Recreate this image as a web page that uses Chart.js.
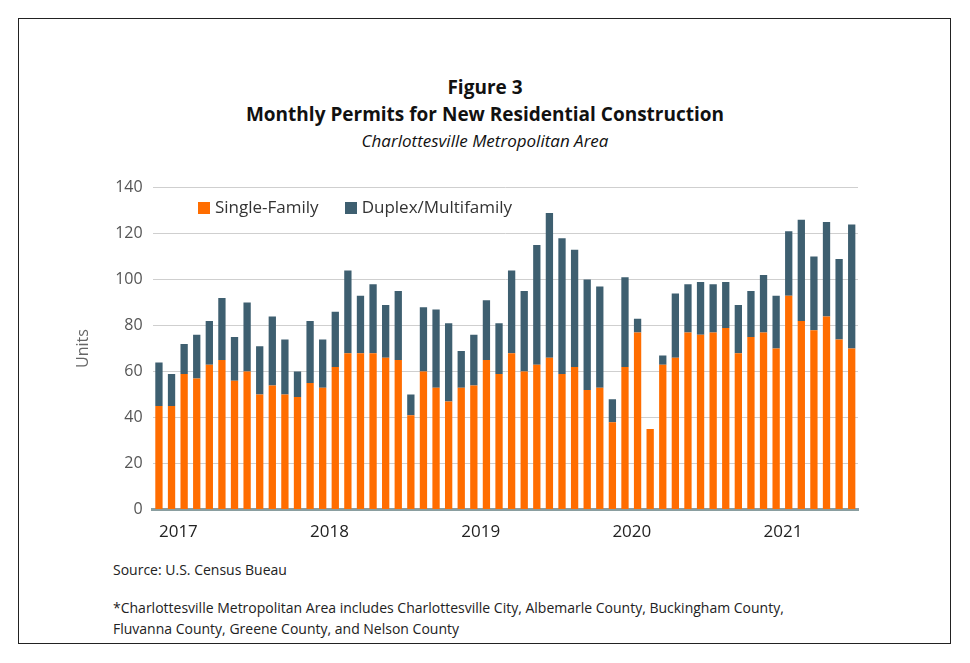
<!DOCTYPE html>
<html><head><meta charset="utf-8">
<script src="https://cdn.jsdelivr.net/npm/chart.js@4"></script>
<style>
body{margin:0;background:#fff;font-family:"Open Sans",sans-serif;}
#frame{position:absolute;left:18px;top:18px;width:933px;height:626px;border:1px solid #222;box-sizing:border-box;}
.t{position:absolute;left:0;width:970px;text-align:center;color:#111;}
#wrap{position:absolute;left:70px;top:168px;width:800px;height:378px;}
#legend{position:absolute;left:198px;top:195px;font-size:17px;color:#333;}
#legend span.b{display:inline-block;width:12px;height:12px;margin-right:5px;vertical-align:-1px;}
.n{position:absolute;left:113px;font-size:14px;color:#222;}
</style></head><body>
<div id="frame"></div>
<div class="t" style="top:74px;font-size:19px;font-weight:bold;">Figure 3</div>
<div class="t" style="top:101px;font-size:19px;font-weight:bold;">Monthly Permits for New Residential Construction</div>
<div class="t" style="top:129px;font-size:17px;font-style:italic;">Charlottesville Metropolitan Area</div>
<div id="wrap"><canvas id="c"></canvas></div>
<div id="legend"></div>
<div class="n" style="top:560px;">Source: U.S. Census Bueau</div>
<div class="n" style="top:598px;">*Charlottesville Metropolitan Area includes Charlottesville City, Albemarle County, Buckingham County,</div>
<div class="n" style="top:619px;">Fluvanna County, Greene County, and Nelson County</div>
<script>
const years=["2017","2018","2019","2020","2021"];
const singleFamily=[45,45,59,57,63,65,56,60,50,54,50,49,
55,53,62,68,68,68,66,65,41,60,53,47,
53,54,65,59,68,60,63,66,59,62,52,53,
38,62,77,35,63,66,77,76,77,79,68,75,
77,70,93,82,78,84,74,70];
const totals=[64,59,72,76,82,92,75,90,71,84,74,60,
82,74,86,104,93,98,89,95,50,88,87,81,
69,76,91,81,104,95,115,129,118,113,100,97,
48,101,83,35,67,94,98,99,98,99,89,95,
102,93,121,126,110,125,109,124];
const multiFamily=totals.map((t,i)=>t-singleFamily[i]);
const labels=singleFamily.map((_,i)=>i%12===0?years[i/12]:"");
const seriesNames=["Single-Family","Duplex/Multifamily"];
const colors=["#ff6d00","#3e5f70"];
document.getElementById('legend').innerHTML=seriesNames.map((n,i)=>`<span class="b" style="background:${colors[i]}"></span>${n}`).join('<span style="display:inline-block;width:26px"></span>');
new Chart(document.getElementById('c'),{type:'bar',
data:{labels,datasets:[
{label:seriesNames[0],data:singleFamily,backgroundColor:colors[0],barPercentage:0.58,categoryPercentage:1},
{label:seriesNames[1],data:multiFamily,backgroundColor:colors[1],barPercentage:0.58,categoryPercentage:1}]},
options:{responsive:true,maintainAspectRatio:false,animation:false,
layout:{padding:{top:10,right:12}},
plugins:{legend:{display:false},tooltip:{enabled:false}},
scales:{
x:{stacked:true,grid:{display:false},border:{color:'#8a9ea0',width:3},
ticks:{autoSkip:false,maxRotation:0,color:'#222',font:{family:'Open Sans',size:17},padding:4,align:'start'}},
y:{stacked:true,min:0,max:140,ticks:{stepSize:20,color:'#555',font:{family:'Open Sans',size:16},padding:10},
border:{display:false},grid:{color:'#cfcfcf',borderDash:[6,5],drawTicks:false},
title:{display:true,text:'Units',color:'#666',font:{family:'Open Sans',size:16},padding:{bottom:12}}}}}});
</script>
</body></html>
